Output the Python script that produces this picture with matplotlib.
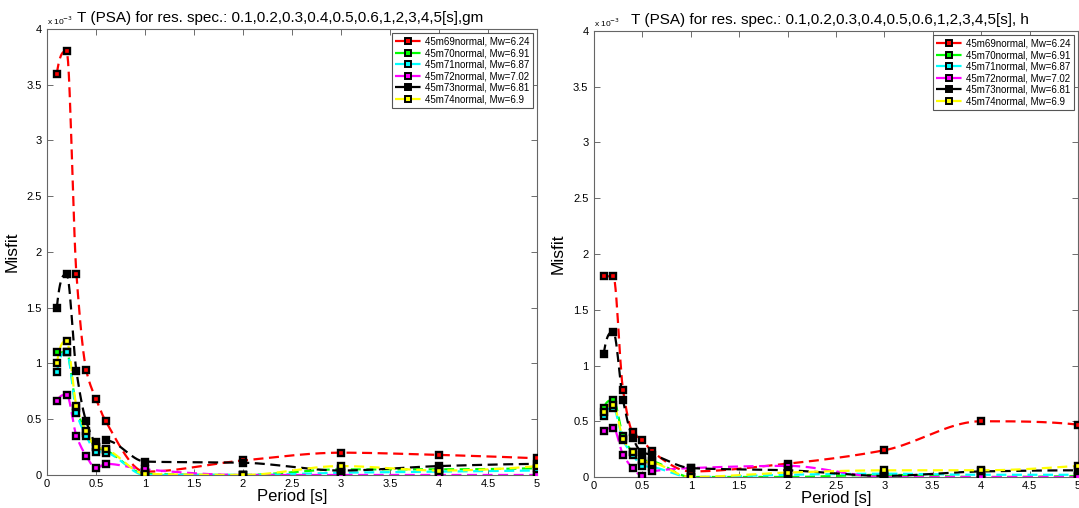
import numpy as np
import matplotlib.pyplot as plt

plt.rcParams['font.family'] = ['Liberation Sans', 'DejaVu Sans']

# response spectrum periods [s]
periods = [0.1, 0.2, 0.3, 0.4, 0.5, 0.6, 1, 2, 3, 4, 5]

events = ['45m69normal, Mw=6.24', '45m70normal, Mw=6.91', '45m71normal, Mw=6.87',
          '45m72normal, Mw=7.02', '45m73normal, Mw=6.81', '45m74normal, Mw=6.9']
colors = ['#ff0000', '#00ff00', '#00ffff', '#ff00ff', '#000000', '#ffff00']

# misfit values in units of 1e-3, one row per event
misfit_gm = [
    [3.60, 3.80, 1.80, 0.94, 0.68, 0.48, 0.03, 0.13, 0.20, 0.18, 0.15],
    [1.10, 1.10, 0.60, 0.38, 0.25, 0.22, 0.01, 0.00, 0.05, 0.05, 0.06],
    [0.92, 1.10, 0.56, 0.35, 0.21, 0.20, 0.00, 0.00, 0.02, 0.03, 0.04],
    [0.66, 0.72, 0.35, 0.17, 0.06, 0.10, 0.05, 0.00, 0.00, 0.00, 0.00],
    [1.50, 1.80, 0.93, 0.48, 0.30, 0.31, 0.12, 0.11, 0.04, 0.08, 0.10],
    [1.00, 1.20, 0.62, 0.39, 0.25, 0.23, 0.01, 0.00, 0.08, 0.04, 0.08],
]
misfit_h = [
    [1.80, 1.80, 0.78, 0.40, 0.33, 0.23, 0.05, 0.12, 0.24, 0.50, 0.47],
    [0.62, 0.69, 0.37, 0.22, 0.15, 0.14, 0.00, 0.00, 0.02, 0.00, 0.01],
    [0.55, 0.62, 0.33, 0.20, 0.10, 0.09, 0.00, 0.02, 0.03, 0.02, 0.02],
    [0.41, 0.44, 0.20, 0.08, 0.01, 0.05, 0.08, 0.10, 0.00, 0.00, 0.00],
    [1.10, 1.30, 0.69, 0.35, 0.22, 0.20, 0.08, 0.06, 0.01, 0.05, 0.06],
    [0.58, 0.65, 0.34, 0.22, 0.14, 0.13, 0.00, 0.04, 0.06, 0.06, 0.10],
]

titles = ['T (PSA) for res. spec.: 0.1,0.2,0.3,0.4,0.5,0.6,1,2,3,4,5[s],gm',
          'T (PSA) for res. spec.: 0.1,0.2,0.3,0.4,0.5,0.6,1,2,3,4,5[s], h']
title_x = [0.476, 0.488]


def smooth_curve(x, y, n=600):
    """shape-preserving cubic (pchip) through the points, used for the line only"""
    x = np.asarray(x, float)
    y = np.asarray(y, float)
    h = np.diff(x)
    delta = np.diff(y) / h
    m = len(x)
    d = np.zeros(m)
    for k in range(1, m - 1):
        if delta[k - 1] * delta[k] > 0:
            w1 = 2 * h[k] + h[k - 1]
            w2 = h[k] + 2 * h[k - 1]
            d[k] = (w1 + w2) / (w1 / delta[k - 1] + w2 / delta[k])
    # end slopes
    for k, (hh0, hh1, d0, d1) in [(0, (h[0], h[1], delta[0], delta[1])),
                                  (m - 1, (h[-1], h[-2], delta[-1], delta[-2]))]:
        s = ((2 * hh0 + hh1) * d0 - hh0 * d1) / (hh0 + hh1)
        if np.sign(s) != np.sign(d0):
            s = 0.0
        elif np.sign(d0) != np.sign(d1) and abs(s) > abs(3 * d0):
            s = 3 * d0
        d[k] = s
    xs = np.linspace(x[0], x[-1], n)
    idx = np.clip(np.searchsorted(x, xs) - 1, 0, m - 2)
    t = (xs - x[idx]) / h[idx]
    h00 = 2 * t ** 3 - 3 * t ** 2 + 1
    h10 = t ** 3 - 2 * t ** 2 + t
    h01 = -2 * t ** 3 + 3 * t ** 2
    h11 = t ** 3 - t ** 2
    ys = h00 * y[idx] + h10 * h[idx] * d[idx] + h01 * y[idx + 1] + h11 * h[idx] * d[idx + 1]
    return xs, ys


fig = plt.figure(figsize=(10.79, 5.08), dpi=100)
rects = [[0.0436, 0.065, 0.454, 0.878], [0.5505, 0.061, 0.4485, 0.878]]
dash = (0, (4.5, 2.5))

for rect, data, title, tx in zip(rects, [misfit_gm, misfit_h], titles, title_x):
    ax = fig.add_axes(rect)
    for vals, col, name in zip(data, colors, events):
        xs, ys = smooth_curve(periods, vals)
        ax.plot(xs, ys, color=col, lw=1.6, ls=dash, zorder=2)
        ax.plot(periods, vals, ls='none', marker='s', ms=4.8, mfc=col,
                mec='black', mew=1.7, zorder=3)
        # proxy for the legend entry
        ax.plot([], [], color=col, lw=1.6, ls=dash, marker='s',
                ms=4, mfc=col, mec='black', mew=1.4, label=name)

    ax.set_xlim(0, 5)
    ax.set_ylim(0, 4)
    ax.set_xticks(np.arange(0, 5.01, 0.5))
    ax.set_yticks(np.arange(0, 4.01, 0.5))
    ax.set_xticklabels(['0', '0.5', '1', '1.5', '2', '2.5', '3', '3.5', '4', '4.5', '5'])
    ax.set_yticklabels(['0', '0.5', '1', '1.5', '2', '2.5', '3', '3.5', '4'])
    ax.tick_params(direction='in', top=True, right=True, length=4, width=0.6,
                   color='#555555', labelsize=8)
    ax.tick_params(axis='x', pad=3)
    ax.tick_params(axis='y', pad=4)
    for sp in ax.spines.values():
        sp.set_color('#666666')
        sp.set_linewidth(0.8)

    ax.set_title(title, fontsize=11, pad=5, x=tx)
    ax.set_xlabel('Period [s]', fontsize=12, labelpad=0)
    ax.set_ylabel('Misfit', fontsize=12.5, labelpad=5)
    ax.text(0.0, 1.005, r'x 10$^{-3}$', transform=ax.transAxes, fontsize=6,
            ha='left', va='bottom')

    leg = ax.legend(loc='upper right', fontsize=7, numpoints=1, handlelength=2.6,
                    handletextpad=0.4, labelspacing=0.15, borderpad=0.4,
                    fancybox=False, framealpha=1, borderaxespad=0.4)
    leg.get_frame().set_edgecolor('#555555')
    leg.get_frame().set_linewidth(0.8)

fig.savefig('out.png', dpi=100)
